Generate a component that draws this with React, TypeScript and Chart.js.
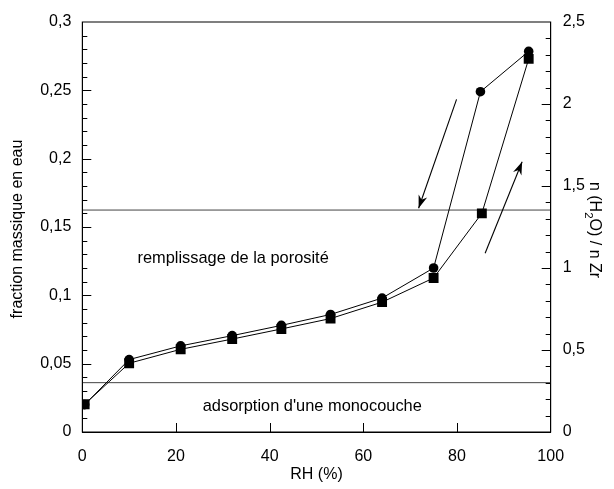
import React, { useEffect, useRef } from 'react';
import { Chart, registerables } from 'chart.js';
Chart.register(...registerables);

// ---- data ----
const RH_DES = [0.5, 10, 21, 32, 42.5, 53, 64, 75, 85, 95.3];
const W_DES = [0.020, 0.053, 0.063, 0.0705, 0.078, 0.086, 0.098, 0.120, 0.249, 0.2785];
const RH_ADS = [0.5, 10, 21, 32, 42.5, 53, 64, 75, 85.3, 95.3];
const W_ADS = [0.0203, 0.0503, 0.0605, 0.068, 0.0754, 0.083, 0.095, 0.1127, 0.160, 0.273];

const LINE_MONO = 0.0361;
const LINE_PORE = 0.1624;

const X_TICKS = [0, 20, 40, 60, 80, 100];
const Y_TICKS = [0, 0.05, 0.1, 0.15, 0.2, 0.25, 0.3];
const Y2_TICKS = [0, 0.5, 1, 1.5, 2, 2.5];

// arrows: [xStart, yStart, xTip, yTip] in data units
const ARROW_DOWN = [79.9, 0.2434, 71.8, 0.1637];
const ARROW_UP = [86.0, 0.1308, 93.9, 0.1978];

const LABEL_PORE = { text: 'remplissage de la porosité', x: 32.2, y: 0.127 };
const LABEL_MONO = { text: "adsorption d'une monocouche", x: 49.1, y: 0.019 };

const FONT = '"Liberation Sans", Arial, Helvetica, sans-serif';
const FS = 16;
const FS_LABEL = 16.4;

const fmt = (v: number) => String(Number(v.toFixed(2))).replace('.', ',');

const drawArrow = (ctx: CanvasRenderingContext2D, x0: number, y0: number, x1: number, y1: number) => {
  ctx.beginPath();
  ctx.moveTo(x0, y0);
  ctx.lineTo(x1, y1);
  ctx.stroke();
  const ang = Math.atan2(y1 - y0, x1 - x0);
  const L = 13, Wd = 4.5, notch = 9;
  const bx = x1 - L * Math.cos(ang), by = y1 - L * Math.sin(ang);
  const nx = x1 - notch * Math.cos(ang), ny = y1 - notch * Math.sin(ang);
  const px = -Math.sin(ang), py = Math.cos(ang);
  ctx.beginPath();
  ctx.moveTo(x1, y1);
  ctx.lineTo(bx + px * Wd, by + py * Wd);
  ctx.lineTo(nx, ny);
  ctx.lineTo(bx - px * Wd, by - py * Wd);
  ctx.closePath();
  ctx.fill();
};

const annotPlugin = {
  id: 'annot',
  afterDatasetsDraw(chart: any) {
    const { ctx, chartArea: a, scales } = chart;
    const x = scales.x, y = scales.y, y2 = scales.y2;
    ctx.save();
    ctx.strokeStyle = '#000';
    ctx.fillStyle = '#000';
    ctx.lineWidth = 1;
    // frame
    ctx.strokeRect(a.left, a.top, a.right - a.left, a.bottom - a.top);
    // inward ticks
    ctx.beginPath();
    for (let i = 1; i < 30; i++) {
      const v = i / 100;
      const py = Math.round(y.getPixelForValue(v)) + 0.5;
      const len = i % 5 === 0 ? 9 : 5;
      ctx.moveTo(a.left, py);
      ctx.lineTo(a.left + len, py);
    }
    for (let i = 1; i < 25; i++) {
      const v = i / 10;
      const py = Math.round(y2.getPixelForValue(v)) + 0.5;
      const len = i % 5 === 0 ? 9 : 5;
      ctx.moveTo(a.right, py);
      ctx.lineTo(a.right - len, py);
    }
    for (const t of X_TICKS.slice(1, -1)) {
      const px = Math.round(x.getPixelForValue(t)) + 0.5;
      ctx.moveTo(px, a.bottom);
      ctx.lineTo(px, a.bottom - 9);
    }
    ctx.stroke();
    // arrows
    ctx.lineWidth = 1.1;
    for (const ar of [ARROW_DOWN, ARROW_UP]) {
      drawArrow(ctx, x.getPixelForValue(ar[0]), y.getPixelForValue(ar[1]), x.getPixelForValue(ar[2]), y.getPixelForValue(ar[3]));
    }
    // text labels
    ctx.font = `${FS_LABEL}px ${FONT}`;
    ctx.textAlign = 'center';
    ctx.textBaseline = 'middle';
    for (const l of [LABEL_PORE, LABEL_MONO]) {
      ctx.fillText(l.text, x.getPixelForValue(l.x), y.getPixelForValue(l.y));
    }
    // axis titles
    ctx.font = `${FS}px ${FONT}`;
    const cy = (a.top + a.bottom) / 2;
    ctx.save();
    ctx.translate(18, cy + 2);
    ctx.rotate(-Math.PI / 2);
    ctx.fillText('fraction massique en eau', 0, 0);
    ctx.restore();
    ctx.fillText('RH (%)', (a.left + a.right) / 2, 475);
    // right title with subscript, reading top-to-bottom
    ctx.save();
    ctx.translate(596, cy + 3);
    ctx.rotate(Math.PI / 2);
    ctx.textAlign = 'left';
    ctx.textBaseline = 'alphabetic';
    const p1 = 'n (H', p2 = '2', p3 = 'O) / n Zr';
    const subFont = `${FS * 0.72}px ${FONT}`;
    const mainFont = `${FS}px ${FONT}`;
    ctx.font = mainFont;
    const w1 = ctx.measureText(p1).width, w3 = ctx.measureText(p3).width;
    ctx.font = subFont;
    const w2 = ctx.measureText(p2).width;
    const total = w1 + w2 + w3;
    let sx = -total / 2;
    const base = FS * 0.35;
    ctx.font = mainFont;
    ctx.fillText(p1, sx, base);
    sx += w1;
    ctx.font = subFont;
    ctx.fillText(p2, sx, base + 5);
    sx += w2;
    ctx.font = mainFont;
    ctx.fillText(p3, sx, base);
    ctx.restore();
    ctx.restore();
  },
};

export default function App() {
  const ref = useRef<HTMLCanvasElement | null>(null);
  useEffect(() => {
    if (!ref.current) return;
    const des = RH_DES.map((v, i) => ({ x: v, y: W_DES[i] }));
    const ads = RH_ADS.map((v, i) => ({ x: v, y: W_ADS[i] }));
    const chart = new Chart(ref.current, {
      type: 'line',
      data: {
        datasets: [
          { data: ads, borderColor: '#000', backgroundColor: '#000', borderWidth: 1, pointStyle: 'rect', pointRadius: 7, pointBorderWidth: 0 },
          { data: des, borderColor: '#000', backgroundColor: '#000', borderWidth: 1, pointStyle: 'circle', pointRadius: 4.8, pointBorderWidth: 0 },
          { data: [{ x: 0, y: LINE_MONO }, { x: 100, y: LINE_MONO }], borderColor: '#444', borderWidth: 1, pointRadius: 0 },
          { data: [{ x: 0, y: LINE_PORE }, { x: 100, y: LINE_PORE }], borderColor: '#444', borderWidth: 1, pointRadius: 0 },
        ],
      },
      options: {
        responsive: false,
        animation: false,
        layout: { padding: { top: 22, left: 0, right: 0, bottom: 0 } },
        plugins: { legend: { display: false }, tooltip: { enabled: false } },
        elements: { line: { tension: 0 } },
        scales: {
          x: {
            type: 'linear', min: 0, max: 100,
            afterBuildTicks: (s: any) => { s.ticks = X_TICKS.map((v) => ({ value: v })); },
            afterFit: (s: any) => { s.height = 57; },
            grid: { display: false, drawTicks: false },
            border: { display: true, color: '#000' },
            ticks: { color: '#000', font: { family: FONT, size: FS }, padding: 15, maxRotation: 0 },
          },
          y: {
            type: 'linear', position: 'left', min: 0, max: 0.3,
            afterBuildTicks: (s: any) => { s.ticks = Y_TICKS.map((v) => ({ value: v })); },
            afterFit: (s: any) => { s.width = 82.3; },
            grid: { display: false, drawTicks: false },
            border: { display: true, color: '#000' },
            ticks: { color: '#000', font: { family: FONT, size: FS }, padding: 11, callback: (v: any) => fmt(Number(v)) },
          },
          y2: {
            type: 'linear', position: 'right', min: 0, max: 2.5,
            afterBuildTicks: (s: any) => { s.ticks = Y2_TICKS.map((v) => ({ value: v })); },
            afterFit: (s: any) => { s.width = 63.3; },
            grid: { display: false, drawTicks: false },
            border: { display: true, color: '#000' },
            ticks: { color: '#000', font: { family: FONT, size: FS }, padding: 12, callback: (v: any) => fmt(Number(v)) },
          },
        },
      },
      plugins: [annotPlugin],
    });
    return () => chart.destroy();
  }, []);
  return (
    <div style={{ position: 'fixed', left: 0, top: 0, width: 614, height: 489, background: '#fff' }}>
      <canvas ref={ref} width={614} height={489} style={{ display: 'block' }} />
    </div>
  );
}
